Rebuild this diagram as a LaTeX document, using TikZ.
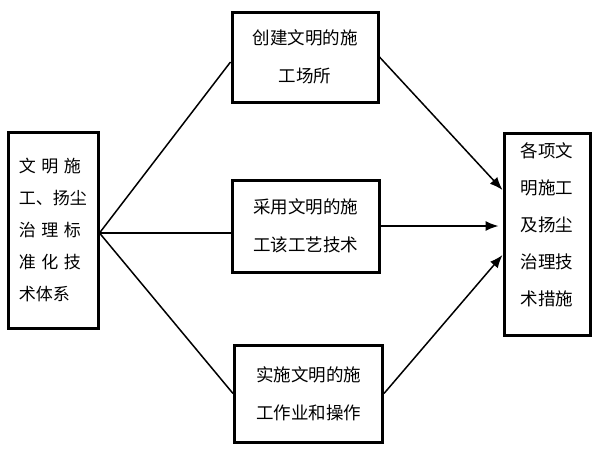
\documentclass[tikz,border=0pt]{standalone}
\usepackage{fontspec}
\newfontfamily\cjk{Noto Sans CJK SC}
\usetikzlibrary{arrows.meta}
\tikzset{
  stagebox/.style={draw, line width=3pt, inner sep=0pt, align=center,
    font=\cjk\fontsize{17.5pt}{38pt}\selectfont},
  sidebox/.style={stagebox, align=left},
  link/.style={line width=1.5pt},
  flow/.style={link, -{Latex[length=13pt,width=10pt]}},
}
\newcommand{\spreadline}[1]{\makebox[62pt][s]{#1}}

\begin{document}
\begin{tikzpicture}[x=1pt,y=-1pt]
  \useasboundingbox (0,0) rectangle (600,450);
  % boxes
  \node[sidebox, minimum width=90pt, minimum height=196pt,
        font=\cjk\fontsize{17pt}{32pt}\selectfont] (system) at (53,230)
    {\spreadline{文\hfill 明\hfill 施}\\ 工、扬尘\\
     \spreadline{治\hfill 理\hfill 标}\\ \spreadline{准\hfill 化\hfill 技}\\ 术体系};
  \node[stagebox, minimum width=146pt, minimum height=90pt] (site) at (305,57)
    {创建文明的施\\ 工场所};
  \node[stagebox, minimum width=147pt, minimum height=92pt] (tech) at (305.5,226)
    {采用文明的施\\ 工该工艺技术};
  \node[stagebox, minimum width=148pt, minimum height=97pt] (work) at (308.5,393.5)
    {实施文明的施\\ 工作业和操作};
  \node[stagebox, minimum width=86pt, minimum height=202pt, text depth=20pt,
        font=\cjk\fontsize{17.5pt}{37pt}\selectfont] (result) at (547,234)
    {各项文\\ 明施工\\ 及扬尘\\ 治理技\\ 术措施};
  % connectors
  \draw[link] ([yshift=-3pt]system.east) -- ([yshift=-5pt]site.west);
  \draw[link] ([yshift=-3pt]system.east) -- ([yshift=-3pt]system.east -| tech.west);
  \draw[link] ([yshift=-3pt]system.east) -- (work.west);
  \draw[flow] (site.east) -- ([yshift=44pt]result.west);
  \draw[flow] (tech.east) -- ([xshift=-4pt]tech.east -| result.west);
  \draw[flow] (work.east) -- ([yshift=-21pt]result.west);
\end{tikzpicture}
\end{document}
